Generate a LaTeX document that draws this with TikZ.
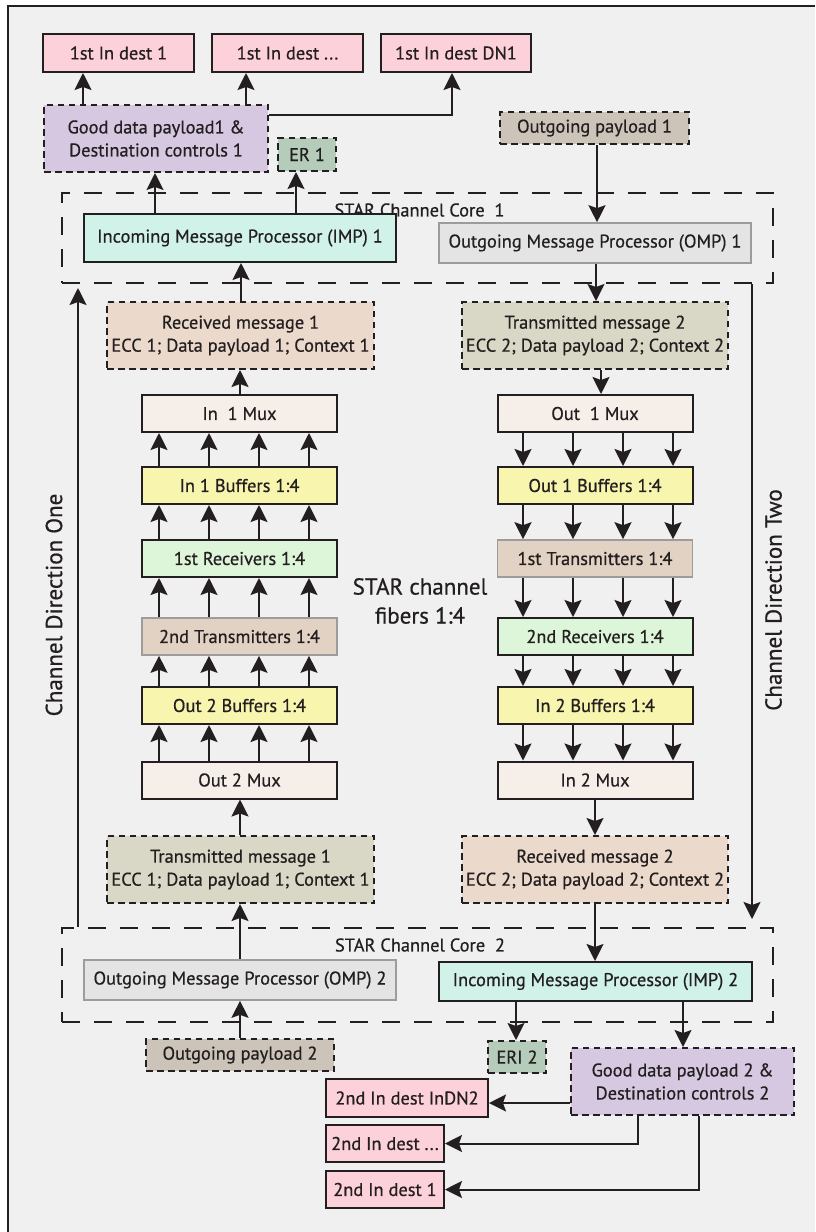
\documentclass[tikz,border=0pt]{standalone}
\usepackage{fontspec}
\setmainfont{PT Sans}[RawFeature={embolden=0.6}]
\usetikzlibrary{arrows.meta}

\definecolor{bg}{HTML}{F0F0F0}
\definecolor{lc}{HTML}{231F20}
\definecolor{tc}{HTML}{231F20}
\definecolor{gc}{HTML}{9C9C9C}
\definecolor{destpink}{HTML}{FDD1D9}
\definecolor{goodpurple}{HTML}{D5C8E0}
\definecolor{ergreen}{HTML}{B5CCBA}
\definecolor{outpay}{HTML}{CCC3B9}
\definecolor{impcyan}{HTML}{D0F2E8}
\definecolor{ompgrey}{HTML}{E4E4E4}
\definecolor{rcvmsg}{HTML}{EBD9CB}
\definecolor{trmsg}{HTML}{D9D7C5}
\definecolor{muxfill}{HTML}{F6EEE9}
\definecolor{buffill}{HTML}{F7F5AE}
\definecolor{rxfill}{HTML}{DDF5D8}
\definecolor{txfill}{HTML}{E2D2C4}

\begin{document}
\begin{tikzpicture}[x=1pt,y=-1pt,
  >={Stealth[length=17pt,width=17pt,inset=3pt]},
  every node/.style={font=\fontsize{18.4}{23}\selectfont, text=tc, inner sep=0pt, align=center},
  bigtxt/.style={font=\fontsize{23}{29}\selectfont},
  solidbox/.style={draw=lc, line width=2pt},
  greybox/.style={draw=gc, line width=1.6pt},
  dashbox/.style={draw=lc, line width=2pt, dash pattern=on 6.5pt off 4.5pt},
  corebox/.style={draw=lc, line width=2pt, dash pattern=on 18pt off 14pt},
  mux/.style={solidbox, fill=muxfill},
  buf/.style={solidbox, fill=buffill},
  rx/.style={solidbox, fill=rxfill},
  tx/.style={greybox, fill=txfill},
  stackbox/.style={minimum width=195pt, minimum height=37pt},
  arr/.style={draw=lc, line width=2pt, ->},
]
\useasboundingbox (0,0) rectangle (815,1232);
% page and frame
\fill[white] (0,0) rectangle (815,1232);
\fill[bg] (8,6) rectangle (815,1232);
\draw[lc, line width=2.5pt] (8,1232) -- (8,6) -- (815,6);

% channel cores
\node[corebox, minimum width=711pt, minimum height=90pt] (core1) at (417.5,238) {};
\node[corebox, minimum width=711pt, minimum height=94pt] (core2) at (417.5,975) {};
\node (core1lbl) at (419.5,210) {STAR Channel Core\ \ 1};
\node (core2lbl) at (420,945) {STAR Channel Core\ \ 2};

% top destinations
\node[solidbox, fill=destpink, minimum width=151pt, minimum height=38pt] (d1a) at (118.5,53) {1st In dest 1};
\node[solidbox, fill=destpink, minimum width=151pt, minimum height=38pt] (d1b) at (287.5,53) {1st In dest ...};
\node[solidbox, fill=destpink, minimum width=150pt, minimum height=38pt] (d1c) at (456,53) {1st In dest DN1};

\node[dashbox, fill=goodpurple, minimum width=224pt, minimum height=67pt] (gd1) at (156,138.5) {Good data payload1 \&\\Destination controls 1};
\node[dashbox, fill=ergreen, minimum width=58pt, minimum height=33pt] (er1) at (307,154.5) {ER 1};
\node[dashbox, fill=outpay, minimum width=189pt, minimum height=32pt] (op1) at (594.5,128) {Outgoing payload 1};

\node[solidbox, fill=impcyan, minimum width=312pt, minimum height=48pt] (imp1) at (240,238) {Incoming Message Processor (IMP) 1};
\node[greybox, fill=ompgrey, minimum width=312pt, minimum height=40pt] (omp1) at (595,243) {Outgoing Message Processor (OMP) 1};

% messages
\node[dashbox, fill=rcvmsg, minimum width=267pt, minimum height=67pt] (rm1) at (240.5,335.5) {Received message 1\\ECC 1; Data payload 1; Context 1};
\node[dashbox, fill=trmsg, minimum width=266pt, minimum height=67pt] (tm2) at (595,335.5) {Transmitted message 2\\ECC 2; Data payload 2; Context 2};
\node[dashbox, fill=trmsg, minimum width=267pt, minimum height=67pt] (tm1) at (240.5,869.5) {Transmitted message 1\\ECC 1; Data payload 1; Context 1};
\node[dashbox, fill=rcvmsg, minimum width=266pt, minimum height=67pt] (rm2) at (595,869.5) {Received message 2\\ECC 2; Data payload 2; Context 2};

% fiber stacks
\foreach \n/\s/\y/\t in {L1/mux/413.5/In\ \ 1 Mux, L2/buf/485.5/In 1 Buffers 1:4, L3/rx/558.5/1st Receivers 1:4,
                          L4/tx/636.5/2nd Transmitters 1:4, L5/buf/705.5/Out 2 Buffers 1:4, L6/mux/780/Out 2 Mux}
  \node[\s, stackbox] (\n) at (239.5,\y) {\t};
\foreach \n/\s/\y/\t in {R1/mux/413.5/Out\ \ 1 Mux, R2/buf/485.5/Out 1 Buffers 1:4, R3/tx/558.5/1st Transmitters 1:4,
                          R4/rx/636.5/2nd Receivers 1:4, R5/buf/705.5/In 2 Buffers 1:4, R6/mux/780/In 2 Mux}
  \node[\s, stackbox] (\n) at (595,\y) {\t};

\node[bigtxt] (fib) at (420,601) {STAR channel\\fibers 1:4};

% bottom core contents
\node[greybox, fill=ompgrey, minimum width=312pt, minimum height=40pt] (omp2) at (240,980) {Outgoing Message Processor (OMP) 2};
\node[solidbox, fill=impcyan, minimum width=313pt, minimum height=39pt] (imp2) at (595.5,981.5) {Incoming Message Processor (IMP) 2};
\node[dashbox, fill=outpay, minimum width=188pt, minimum height=32pt] (op2) at (240,1055) {Outgoing payload 2};
\node[dashbox, fill=ergreen, minimum width=58pt, minimum height=32pt] (eri2) at (517,1057) {ERI 2};
\node[dashbox, fill=goodpurple, minimum width=223pt, minimum height=67pt] (gd2) at (682.5,1081.5) {Good data payload 2 \&\\Destination controls 2};

\node[solidbox, fill=destpink, minimum width=162pt, minimum height=38pt] (d2a) at (407,1098) {2nd In dest InDN2};
\node[solidbox, fill=destpink, minimum width=118pt, minimum height=37pt] (d2b) at (385,1143.5) {2nd In dest ...};
\node[solidbox, fill=destpink, minimum width=118pt, minimum height=37pt] (d2c) at (385,1189.5) {2nd In dest 1};

% direction labels
\node[bigtxt, rotate=90] (dir1) at (54,605) {Channel Direction One};
\node[bigtxt, rotate=90] (dir2) at (773.5,600) {Channel Direction Two};

% connectors, top
\draw[arr] (gd1.north -| 83,0) -- (d1a.south -| 83,0);
\draw[arr] (gd1.north -| 246,0) -- (d1b.south -| 246,0);
\draw[arr] (gd1.east |- 0,115) -| (d1c.south -| 452,0);
\draw[arr] (imp1.north -| 155,0) -- (gd1.south -| 155,0);
\draw[arr] (imp1.north -| 296,0) -- (er1.south -| 296,0);
\draw[arr] (op1.south -| 597,0) -- (omp1.north -| 597,0);
\draw[arr] (rm1.north -| 241,0) -- (imp1.south -| 241,0);
\draw[arr] (omp1.south -| 596,0) -- (tm2.north -| 596,0);
\draw[arr] (tm2.south -| 601,0) -- (R1.north -| 601,0);
\draw[arr] (L1.north -| 240,0) -- (rm1.south -| 240,0);

% fiber arrows
\foreach \a/\b in {L2/L1, L3/L2, L4/L3, L5/L4, L6/L5}
  \foreach \x in {159,209,259,309}
    \draw[arr] (\a.north -| \x,0) -- (\b.south -| \x,0);
\foreach \a/\b in {R1/R2, R2/R3, R3/R4, R4/R5, R5/R6}
  \foreach \x in {523,573,623,673}
    \draw[arr] (\a.south -| \x,0) -- (\b.north -| \x,0);

% connectors, bottom
\draw[arr] (tm1.north -| 240,0) -- (L6.south -| 240,0);
\draw[arr] (omp2.north -| 240,0) -- (tm1.south -| 240,0);
\draw[arr] (op2.north -| 240,0) -- (omp2.south -| 240,0);
\draw[arr] (R6.south -| 595,0) -- (rm2.north -| 595,0);
\draw[arr] (rm2.south -| 595,0) -- (imp2.north -| 595,0);
\draw[arr] (imp2.south -| 516,0) -- (eri2.north -| 516,0);
\draw[arr] (imp2.south -| 683,0) -- (gd2.north -| 683,0);
\draw[arr] (gd2.west |- 0,1103) -- (d2a.east |- 0,1103);
\draw[arr] (gd2.south -| 638,0) |- (d2b.east);
\draw[arr] (gd2.south -| 699,0) |- (d2c.east);

% channel directions
\draw[arr] (core2.north -| 78,0) -- ([yshift=-4pt]core1.south -| 78,0);
\draw[arr] (core1.south -| 752,0) -- ([yshift=8pt]core2.north -| 752,0);
\end{tikzpicture}
\end{document}
